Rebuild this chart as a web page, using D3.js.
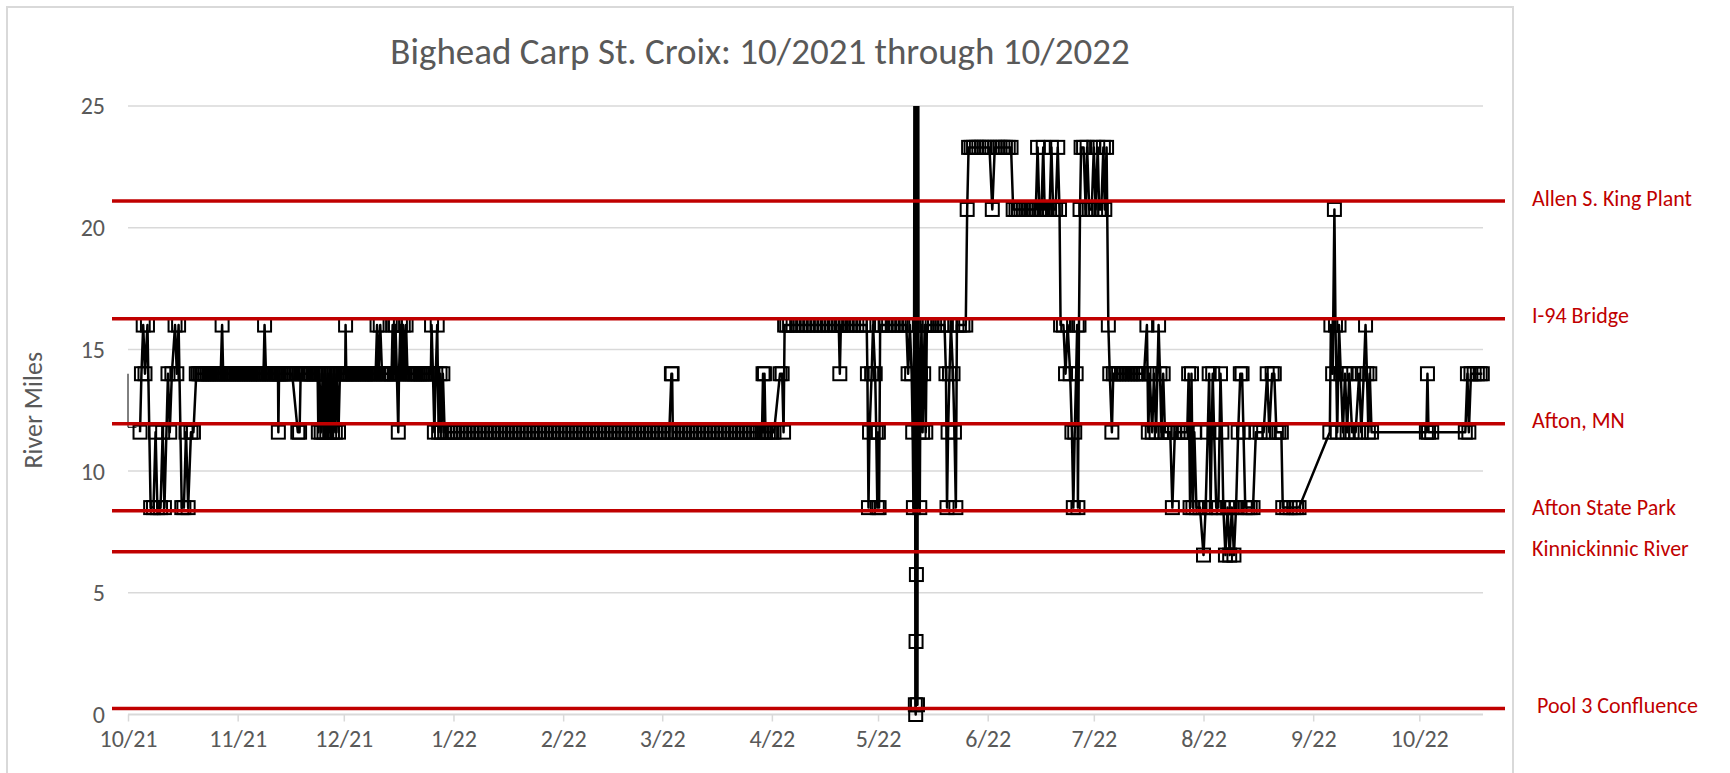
<!DOCTYPE html>
<html>
<head>
<meta charset="utf-8">
<title>Bighead Carp St. Croix</title>
<script src="https://cdn.jsdelivr.net/npm/d3@7"></script>
<style>
  body { margin: 0; background: #ffffff; }
  svg { display: block; font-family: Carlito, Lato, sans-serif; }
</style>
</head>
<body>
<svg id="chart" width="1730" height="773"></svg>
<script>
// detections: [days since 10/1/2021, river mile]
var trackStart = Date.UTC(2021, 9, 1);
var axisEnd = Date.UTC(2022, 9, 19);

// short thin trace at the very start of the record (no markers)
var releaseTrace = [[0,14],[0,11.8],[2.4,11.8]];

var fallDetections = [
  [3.4,11.6],[3.8,14],[4.3,16],[4.8,14],[5.5,16],[6.4,8.5],[7.2,8.5],[7.8,11.6],
  [8.3,8.5],[9.2,8.5],[9.8,11.6],[10.3,8.5],[11.3,14],[11.8,11.6],[12.4,14],[13.3,16],
  [13.8,14],[14.3,16],[15.2,8.5],[15.8,8.5],[16.4,11.6],[17,8.5],[17.8,11.6],[18.5,11.6],
  [19.3,14],[19.8,14],[20.3,14],[20.8,14],[21.3,14],[21.8,14],[22.3,14],[22.8,14],[23.3,14],
  [23.8,14],[24.3,14],[24.8,14],[25.3,14],[25.8,14],[26.2,14],[26.6,16],[26.9,14],
  [27.4,14],[27.9,14],[28.4,14],[28.9,14],[29.4,14],[29.9,14],[30.4,14],[30.9,14],[31.4,14],
  [31.9,14],[32.4,14],[32.9,14],[33.4,14],[33.9,14],[34.4,14],[34.9,14],[35.4,14],[35.9,14],
  [36.4,14],[36.9,14],[37.4,14],[37.9,14],[38.3,14],[38.6,16],[39,14],[39.5,14],[40,14],
  [40.5,14],[41,14],[41.5,14],[42,14],[42.4,14],[42.5,11.6],[42.7,14],[43.2,14],[43.7,14],
  [44.2,14],[44.7,14],[45.2,14],[45.7,14],[46.4,14],[48,11.6],[48.5,11.6],[48.8,14],[49.3,14],
  [49.8,14],[50.3,14],[50.8,14],[51.3,14],[51.8,14],[52.3,14],[52.8,14],[53.2,14],[53.6,14],
  [53.8,11.6],[54.1,14],[54.6,11.6],[55,14],[55.4,11.6],[55.8,14],[56.2,11.6],[56.6,14],
  [57,11.6],[57.4,14],[57.8,11.6],[58.2,14],[58.6,11.6],[59,14],[59.5,11.6],[59.9,14],
  [60.3,14],[60.8,14],[61.4,14],[61.5,16],[61.7,14],[62.2,14],[62.7,14],[63.2,14],[63.7,14],
  [64.2,14],[64.7,14],[65.2,14],[65.7,14],[66.2,14],[66.7,14],[67.2,14],[67.7,14],[68.2,14],
  [68.7,14],[69.2,14],[69.6,14],[70,14],[70.4,16],[70.8,14],[71.3,16],[71.8,14],[72.2,14],
  [72.7,14],[73.2,14],[73.7,14],[74.2,14],[74.5,14],[74.8,16],[75.2,14],[75.6,16],[76,14],
  [76.4,11.6],[76.6,14],[77,16],[77.4,14],[77.8,16],[78.2,14],[78.6,16],[79,14],[79.5,14],
  [80,14],[80.5,14],[81,14],[81.5,14],[82,14],[82.5,14],[83,14],[83.5,14],[84,14],[84.5,14],
  [85,14],[85.6,14],[85.8,16],[86.2,14],[86.6,11.6],[87,14],[87.4,16],[87.8,11.6],
  [88.2,14],[88.6,11.6],[89,14],[89.5,11.6],[90.2,11.6],[91,11.6]
];

var winterDetections = [
  [92,11.6],[93,11.6],[94,11.6],[95,11.6],[96,11.6],[97,11.6],[98,11.6],[99,11.6],
  [100,11.6],[101,11.6],[102,11.6],[103,11.6],[104,11.6],[105,11.6],[106,11.6],[107,11.6],
  [108,11.6],[109,11.6],[110,11.6],[111,11.6],[112,11.6],[113,11.6],[114,11.6],[115,11.6],
  [116,11.6],[117,11.6],[118,11.6],[119,11.6],[120,11.6],[121,11.6],[122,11.6],[123,11.6],
  [124,11.6],[125,11.6],[126,11.6],[127,11.6],[128,11.6],[129,11.6],[130,11.6],[131,11.6],
  [132,11.6],[133,11.6],[134,11.6],[135,11.6],[136,11.6],[137,11.6],[138,11.6],[139,11.6],
  [140,11.6],[141,11.6],[142,11.6],[143,11.6],[144,11.6],[145,11.6],[146,11.6],[147,11.6],
  [148,11.6],[149,11.6],[150,11.6],[151,11.6],[152,11.6],[153,11.6],[153.6,14],[153.8,14],
  [154,11.6],[155,11.6],[156,11.6],[157,11.6],[158,11.6],[159,11.6],[160,11.6],[161,11.6],
  [162,11.6],[163,11.6],[164,11.6],[165,11.6],[166,11.6],[167,11.6],[168,11.6],[169,11.6],
  [170,11.6],[171,11.6],[172,11.6],[173,11.6],[174,11.6],[175,11.6],[176,11.6],[177,11.6],
  [178,11.6],[179.2,11.6],[179.5,14],[179.7,11.6],[179.9,14],[180.2,11.6],[181,11.6],
  [182,11.6],[182.6,11.6],[184.3,14],[184.9,14],[185.3,11.6],[185.6,16]
];

var springDetections = [
  [186.2,16],[187,16],[188,16],[189,16],[190,16],[191,16],[192,16],[193,16],[194,16],
  [195,16],[196,16],[197,16],[198,16],[199,16],[200,16],[200.9,16],[201.2,14],[201.5,16],
  [202,16],[203,16],[204,16],[205,16],[206,16],[207,16],[208,16],[208.8,16],[209,14],
  [209.3,8.5],[209.6,11.6],[210.2,14],[210.6,16],[211.2,14],[211.5,11.6],[211.8,8.5],
  [212.1,11.6],[212.3,8.5],[212.6,16],[213,16],[214,16],[215,16],[216,16],[217,16],[218,16],
  [219,16],[220,16],[220.5,14],[221,16],[221.5,14],[221.8,11.6],[222,8.5],[222.2,16],
  [222.4,40],[222.55,0.4],[222.65,0],[222.75,3],[222.85,5.75],[223,40],[223.15,0.4],
  [223.3,40],[223.45,14],[223.6,11.6],[223.8,8.5],[224,14],[224.3,16],[224.6,11.6],
  [224.9,14],[225.2,16],[225.5,11.6],[225.8,16],[226.5,16],[227.3,16],[228,16],[229,16],
  [230,16],[230.8,16],[231.2,14],[231.5,8.5],[231.8,11.6],[232.2,14],[232.6,16],[233.2,14],
  [233.6,11.6],[234,8.5],[234.3,16],[235,16],[236,16],[236.8,16],[237.2,20.75]
];

var summerDetections = [
  [237.6,23.3],[238.3,23.3],[239,23.3],[239.8,23.3],[240.5,23.3],[241.3,23.3],[242,23.3],
  [242.8,23.3],[243.5,23.3],[244.3,20.75],[245,23.3],[245.8,23.3],[246.5,23.3],[247.3,23.3],
  [248,23.3],[248.8,23.3],[249.6,23.3],[250.2,20.75],[251,20.75],[251.7,20.75],[252.4,20.75],
  [253.1,20.75],[253.8,20.75],[254.5,20.75],[255.2,20.75],[255.9,20.75],[256.6,20.75],
  [257.1,23.3],[257.6,20.75],[258.2,20.75],[258.7,23.3],[259.1,20.75],[259.8,20.75],
  [260.5,20.75],[261,23.3],[261.5,20.75],[262.2,20.75],[262.8,23.3],[263.3,20.75],[263.6,16],
  [264.4,16],[265,14],[265.6,16],[266.3,14],[266.8,11.6],[267.2,8.5],[267.6,11.6],[268,14],
  [268.3,16],[268.5,8.5],[268.8,16],[269.1,20.75],[269.4,23.3],[270.1,23.3],[270.7,20.75],
  [271.1,23.3],[271.7,20.75],[272.4,20.75],[273,23.3],[273.5,20.75],[274.1,23.3],
  [274.5,20.75],[275.1,20.75],[275.7,23.3],[276.1,20.75],[276.6,23.3],[277.1,16],[277.5,14],
  [278.1,11.6],[278.5,14],[279.2,14],[280,14],[280.8,14],[281.6,14],[282.4,14],[283.2,14],
  [284,14],[284.8,14],[285.6,14],[286.4,14],[287.2,14],[288,16],[288.4,11.6],[288.8,14],
  [289.5,11.6],[290,14],[290.6,11.6],[291.3,16],[291.7,14],[292.1,11.6],[292.6,14],
  [293.1,11.6],[293.9,11.6],[294.6,11.6],[295.2,8.5],[295.9,11.6],[296.8,11.6],[297.7,11.6],
  [298.6,11.6],[299.4,11.6],[299.8,14],[300.2,8.5],[300.6,14],[301,8.5],[301.4,11.6]
];

var autumnDetections = [
  [302,8.5],[303,8.5],[304,6.55],[304.6,8.5],[305.2,11.6],[305.6,14],[306,8.5],[306.6,14],
  [307,11.6],[307.6,8.5],[308.2,8.5],[308.8,14],[309.2,11.6],[309.6,8.5],[310.2,6.55],
  [310.8,8.5],[311.4,6.55],[312,8.5],[312.6,6.55],[313.2,8.5],[313.8,11.6],[314.4,14],
  [314.9,14],[315.3,11.6],[315.8,8.5],[316.5,8.5],[317.2,8.5],[318,8.5],[318.8,11.6],
  [320,11.6],[321,11.6],[322,14],[322.6,11.6],[323.4,14],[324,14],[324.6,11.6],[325.3,11.6],
  [326,11.6],[326.4,8.5],[327.5,8.5],[328.5,8.5],[329.5,8.5],[330.3,8.5],[331,8.5],
  [339.7,11.6],[340,16],[340.5,14],[341,20.75],[341.3,16],[341.8,11.6],[342.3,16],
  [342.8,14],[343.4,11.6],[344,14],[344.6,11.6],[345.2,14],[346,11.6],[347,11.6],[348,14],
  [348.6,11.6],[349.3,14],[349.8,16],[350.2,14],[350.6,11.6],[351,14],[351.5,11.6],
  [367,11.6],[367.3,14],[367.6,11.6],[368.5,11.6],[378,11.6],[378.6,14],[379,11.6],
  [379.6,14],[380.5,14],[381.4,14],[382.2,14],[382.8,14]
];

var landmarkNames = ["Allen S. King Plant", "I-94 Bridge", "Afton, MN", "Afton State Park", "Kinnickinnic River", "Pool 3 Confluence"];
var landmarkMiles = [21.1, 16.26, 11.95, 8.37, 6.69, 0.25];

var yTicks = [0, 5, 10, 15, 20, 25];
var monthLabels = ["10/21", "11/21", "12/21", "1/22", "2/22", "3/22", "4/22", "5/22", "6/22", "7/22", "8/22", "9/22", "10/22"];

var svg = d3.select("#chart");

var x = d3.scaleUtc()
  .domain([new Date(trackStart), new Date(axisEnd)])
  .range([128, 1483]);
var y = d3.scaleLinear()
  .domain([0, 25])
  .range([714.5, 106]);

function toPoint(d) {
  return { date: new Date(trackStart + d[0] * 864e5), mile: d[1] };
}

var detections = fallDetections.concat(winterDetections, springDetections, summerDetections, autumnDetections)
  .map(toPoint);

// chart frame
svg.append("rect")
  .attr("x", 7).attr("y", 7)
  .attr("width", 1506).attr("height", 800)
  .attr("fill", "none")
  .attr("stroke", "#d9d9d9")
  .attr("stroke-width", 2);

// title
svg.append("text")
  .attr("x", 760).attr("y", 64)
  .attr("text-anchor", "middle")
  .attr("fill", "#595959")
  .style("font-size", "37px")
  .text("Bighead Carp St. Croix: 10/2021 through 10/2022");

// gridlines
svg.append("g").selectAll("line")
  .data(yTicks.filter(function(t) { return t > 0; }))
  .enter().append("line")
  .attr("x1", x.range()[0]).attr("x2", x.range()[1])
  .attr("y1", function(d) { return y(d); })
  .attr("y2", function(d) { return y(d); })
  .attr("stroke", "#d9d9d9")
  .attr("stroke-width", 1.5);

// y axis labels
svg.append("g").selectAll("text")
  .data(yTicks)
  .enter().append("text")
  .attr("x", 105)
  .attr("y", function(d) { return y(d); })
  .attr("dy", "0.35em")
  .attr("text-anchor", "end")
  .attr("fill", "#595959")
  .style("font-size", "24px")
  .text(function(d) { return d; });

svg.append("text")
  .attr("transform", "translate(42," + ((y(0) + y(25)) / 2) + ") rotate(-90)")
  .attr("text-anchor", "middle")
  .attr("fill", "#595959")
  .style("font-size", "26px")
  .text("River Miles");

// x axis
var monthTicks = d3.utcMonth.range(new Date(trackStart), new Date(axisEnd));
var xAxis = svg.append("g")
  .attr("transform", "translate(0," + y(0) + ")")
  .call(d3.axisBottom(x)
    .tickValues(monthTicks)
    .tickSize(7)
    .tickPadding(8)
    .tickFormat(function(d, i) { return monthLabels[i]; }));
xAxis.select(".domain")
  .attr("stroke", "#d9d9d9")
  .attr("stroke-width", 2)
  .attr("d", "M" + x.range()[0] + ",0H" + x.range()[1]);
xAxis.selectAll(".tick line").attr("stroke", "#d9d9d9").attr("stroke-width", 1.5);
xAxis.selectAll(".tick text")
  .attr("fill", "#595959")
  .style("font-family", "Carlito, Lato, sans-serif")
  .style("font-size", "24px");

// detections, clipped at the top of the plot
svg.append("clipPath").attr("id", "plot-clip")
  .append("rect")
  .attr("x", 0).attr("y", y(25))
  .attr("width", 1730).attr("height", 773 - y(25));

var plot = svg.append("g").attr("clip-path", "url(#plot-clip)");

var line = d3.line()
  .x(function(d) { return x(d.date); })
  .y(function(d) { return y(d.mile); });

plot.append("path")
  .datum(releaseTrace.map(toPoint))
  .attr("d", line)
  .attr("fill", "none")
  .attr("stroke", "#000000")
  .attr("stroke-width", 1);

plot.append("path")
  .datum(detections)
  .attr("d", line)
  .attr("fill", "none")
  .attr("stroke", "#000000")
  .attr("stroke-width", 2.5)
  .attr("stroke-linejoin", "round");

var markerSize = 13;
plot.append("g").selectAll("rect")
  .data(detections)
  .enter().append("rect")
  .attr("x", function(d) { return x(d.date) - markerSize / 2; })
  .attr("y", function(d) { return y(d.mile) - markerSize / 2; })
  .attr("width", markerSize)
  .attr("height", markerSize)
  .attr("fill", "none")
  .attr("stroke", "#000000")
  .attr("stroke-width", 2);

// landmark reference lines
var landmarks = landmarkNames.map(function(name, i) { return { name: name, mile: landmarkMiles[i] }; });

svg.append("g").selectAll("line")
  .data(landmarks)
  .enter().append("line")
  .attr("x1", x.range()[0] - 16)
  .attr("x2", x.range()[1] + 22)
  .attr("y1", function(d) { return y(d.mile); })
  .attr("y2", function(d) { return y(d.mile); })
  .attr("stroke", "#c00000")
  .attr("stroke-width", 3.5);

svg.append("g").selectAll("text")
  .data(landmarks)
  .enter().append("text")
  .attr("x", function(d, i) { return i === landmarks.length - 1 ? 1537 : 1532; })
  .attr("y", function(d) { return y(d.mile) - 3; })
  .attr("dy", "0.35em")
  .attr("fill", "#c00000")
  .style("font-size", "22px")
  .text(function(d) { return d.name; });
</script>
</body>
</html>
